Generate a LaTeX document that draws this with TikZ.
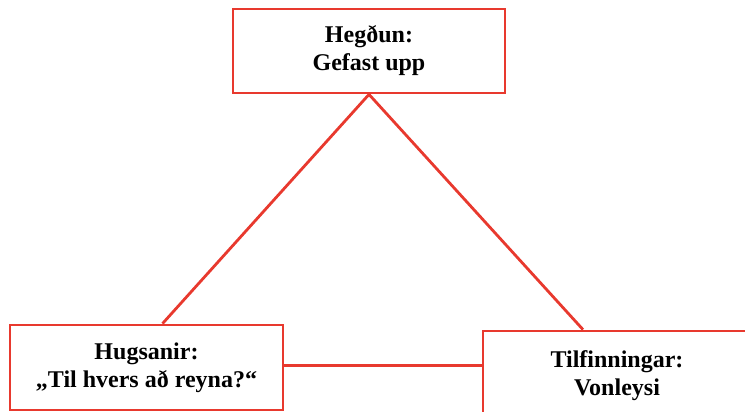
\documentclass[tikz,border=0pt]{standalone}
\usepackage{fontspec}
\setmainfont{Liberation Serif}
\usetikzlibrary{positioning,calc}
\definecolor{Edge}{HTML}{E8392E}
\tikzset{
  box/.style={draw=Edge,fill=white,line width=2.8pt,minimum height=85pt,align=center,inner sep=2pt,
    font=\fontsize{24pt}{28pt}\selectfont\bfseries},
  link/.style={draw=Edge,line width=2.8pt}
}
\begin{document}
\begin{tikzpicture}[x=1pt,y=-1pt]
  \useasboundingbox (0,0) rectangle (745,412);
  \clip (0,0) rectangle (745,412);
  \node[box,minimum width=272pt,minimum height=84pt] (hegdun) at (369,51) {Hegðun:\\Gefast upp};
  \node[box,minimum width=273pt] (hugsanir) at (146.5,367.5) {Hugsanir:\\„Til hvers að reyna?“};
  \node[box,minimum width=268pt,minimum height=89pt] (tilf) at (617,375.5) {Tilfinningar:\\Vonleysi};
  \coordinate (hugtop) at ([xshift=16pt]hugsanir.north);
  \coordinate (tilftop) at ([xshift=-34pt]tilf.north);
  \coordinate (hugside) at ([yshift=2pt]hugsanir.east);
  \draw[link] (hegdun.south) -- (hugtop);
  \draw[link] (hegdun.south) -- (tilftop);
  \draw[link] (hugside) -- (hugside -| tilf.west);
\end{tikzpicture}
\end{document}
